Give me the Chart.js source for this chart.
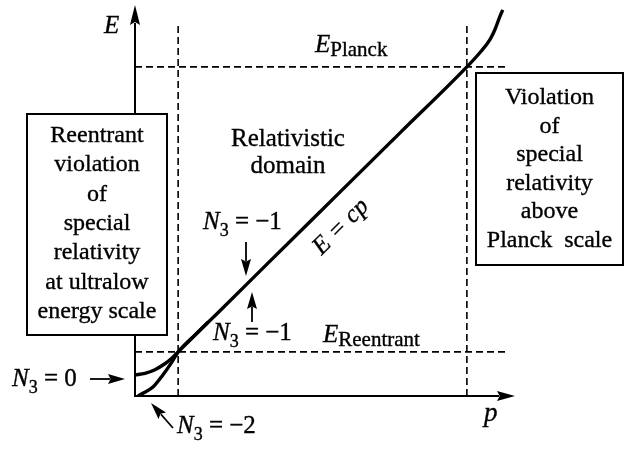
<!DOCTYPE html>
<html lang="en">
  <head>
    <meta charset="UTF-8" />
    <title>Energy vs momentum</title>
    <style>
      html, body { margin: 0; padding: 0; background: #fff; }
      canvas { display: block; }
    </style>
  </head>
  <body>
    <canvas id="chart" width="627" height="449"></canvas>
    <script src="https://cdn.jsdelivr.net/npm/chart.js"></script>
    <script>
      // momentum p and energy E, in units where c = 1
      const planckP = 10;
      const planckE = 10;
      const reentrantP = 1.3;
      const reentrantE = 1.34;
      const dashTopE = 11.3;
      const dashRightP = 11.24;

      // N3 = 0 branch: starts with a gap, joins E = cp, bends up past Planck
      const upperP = [0, 0.3, 0.6, 0.9, 1.1, 1.3, 1.5, 1.8, 2.5, 4, 6, 8, 10, 10.39, 10.69, 10.84, 10.99, 11.08];
      const upperE = [0.64, 0.69, 0.8, 0.98, 1.14, 1.34, 1.54, 1.84, 2.53, 4.03, 6.02, 8.01, 10, 10.43, 10.82, 11.12, 11.52, 11.73];

      // N3 = -2 branch: gapless, quadratic at small p
      const lowerP = [0.09, 0.25, 0.55, 0.84, 1.11, 1.3, 1.5, 1.8, 2.2];
      const lowerE = [0, 0.09, 0.28, 0.64, 1.03, 1.34, 1.56, 1.85, 2.24];

      const SERIF = '"Liberation Serif", "DejaVu Serif", serif';

      const toPoints = (xs, ys) => xs.map((x, i) => ({ x: x, y: ys[i] }));

      // filled text with a thin outline so it reads as heavy as print
      function ink(ctx, text, x, y) {
        ctx.fillText(text, x, y);
        ctx.save();
        ctx.lineWidth = 0.35;
        ctx.strokeText(text, x, y);
        ctx.restore();
      }

      function arrow(ctx, x1, y1, x2, y2, len, half) {
        const a = Math.atan2(y2 - y1, x2 - x1);
        const bx = x2 - len * Math.cos(a);
        const by = y2 - len * Math.sin(a);
        ctx.beginPath();
        ctx.moveTo(x1, y1);
        ctx.lineTo(bx + 2 * Math.cos(a), by + 2 * Math.sin(a));
        ctx.stroke();
        ctx.beginPath();
        ctx.moveTo(x2, y2);
        ctx.lineTo(bx - half * Math.sin(a), by + half * Math.cos(a));
        ctx.lineTo(bx + 0.15 * len * Math.cos(a), by + 0.15 * len * Math.sin(a));
        ctx.lineTo(bx + half * Math.sin(a), by - half * Math.cos(a));
        ctx.closePath();
        ctx.fill();
      }

      function nLabel(ctx, x, y, value) {
        ctx.textAlign = "left";
        ctx.font = "italic 25px " + SERIF;
        ink(ctx, "N", x, y);
        let w = ctx.measureText("N").width;
        ctx.font = "18px " + SERIF;
        ink(ctx, "3", x + w, y + 7);
        w += ctx.measureText("3").width;
        ctx.font = "25px " + SERIF;
        ink(ctx, " = " + value, x + w, y);
      }

      function subLabel(ctx, x, y, main, sub) {
        ctx.textAlign = "left";
        ctx.font = "italic 25px " + SERIF;
        ink(ctx, main, x, y);
        const w = ctx.measureText(main).width;
        ctx.font = "21px " + SERIF;
        ink(ctx, sub, x + w, y + 4);
      }

      function textBox(ctx, left, top, width, height, lines, firstBase, step) {
        ctx.fillStyle = "#fff";
        ctx.fillRect(left, top, width, height);
        ctx.lineWidth = 2;
        ctx.strokeRect(left, top, width, height);
        ctx.fillStyle = "#000";
        ctx.textAlign = "center";
        ctx.font = "24px " + SERIF;
        lines.forEach((t, i) => ink(ctx, t, left + width / 2, firstBase + i * step));
      }

      const diagram = {
        id: "diagram",
        afterDatasetsDraw(chart) {
          const ctx = chart.ctx;
          const xs = chart.scales.x;
          const ys = chart.scales.y;
          const area = chart.chartArea;
          const x0 = xs.getPixelForValue(0);
          const y0 = ys.getPixelForValue(0);
          ctx.save();
          ctx.strokeStyle = "#000";
          ctx.fillStyle = "#000";
          ctx.textBaseline = "alphabetic";

          // axes
          ctx.lineWidth = 2;
          arrow(ctx, x0, y0 + 1, x0, area.top, 20, 5);
          arrow(ctx, x0 - 1, y0, area.right, y0, 18, 5);

          // side boxes
          textBox(ctx, 27, 114, 140, 221,
            ["Reentrant", "violation", "of", "special", "relativity", "at ultralow", "energy scale"], 142, 29.3);
          textBox(ctx, 476, 73, 147, 192,
            ["Violation", "of", "special", "relativity", "above", "Planck  scale"], 104, 28.6);

          // axis names
          ctx.textAlign = "left";
          ctx.font = "italic 25px " + SERIF;
          ink(ctx, "E", 104, 33);
          ctx.font = "italic 27px " + SERIF;
          ink(ctx, "p", 484, 421);

          subLabel(ctx, 315, 52, "E", "Planck");
          subLabel(ctx, 323, 342, "E", "Reentrant");

          ctx.textAlign = "center";
          ctx.font = "25px " + SERIF;
          ink(ctx, "Relativistic", 288, 146);
          ink(ctx, "domain", 288, 173);

          // E = cp along the line
          ctx.save();
          ctx.translate(341, 227);
          ctx.rotate(-Math.PI / 4);
          ctx.textAlign = "center";
          ctx.textBaseline = "middle";
          ctx.font = "italic 25px " + SERIF;
          ink(ctx, "E = cp", 0, 0);
          ctx.restore();

          nLabel(ctx, 203, 229, "\u22121");
          nLabel(ctx, 213, 340, "\u22121");
          nLabel(ctx, 12, 386, "0");
          nLabel(ctx, 177, 433, "\u22122");

          ctx.lineWidth = 1.8;
          arrow(ctx, 246, 242, 246, 276, 17, 5);
          arrow(ctx, 252, 322, 252, 292, 17, 5);
          arrow(ctx, 90, 379, 125, 379, 17, 5);
          arrow(ctx, 173, 428, 151, 403, 17, 5);
          ctx.restore();
        },
      };

      const dashed = {
        borderColor: "#000",
        borderWidth: 1.6,
        borderDash: [7, 4],
        pointRadius: 0,
        showLine: true,
        fill: false,
      };

      const solid = {
        borderColor: "#000",
        borderWidth: 3.4,
        pointRadius: 0,
        showLine: true,
        cubicInterpolationMode: "monotone",
      };

      new Chart(document.getElementById("chart"), {
        type: "scatter",
        data: {
          datasets: [
            { ...dashed, data: toPoints([0, dashRightP], [planckE, planckE]) },
            { ...dashed, data: toPoints([0, dashRightP], [reentrantE, reentrantE]) },
            { ...dashed, data: toPoints([planckP, planckP], [0, dashTopE]) },
            { ...dashed, data: toPoints([reentrantP, reentrantP], [0, dashTopE]) },
            { ...solid, data: toPoints(upperP, upperE) },
            { ...solid, data: toPoints(lowerP, lowerE) },
          ],
        },
        options: {
          responsive: false,
          animation: false,
          devicePixelRatio: 1,
          layout: { padding: { left: 135, right: 112, top: 5, bottom: 53 } },
          scales: {
            x: { type: "linear", min: 0, max: 11.45, display: false },
            y: { type: "linear", min: 0, max: 11.88, display: false },
          },
          plugins: {
            legend: { display: false },
            tooltip: { enabled: false },
          },
        },
        plugins: [diagram],
      });
    </script>
  </body>
</html>
